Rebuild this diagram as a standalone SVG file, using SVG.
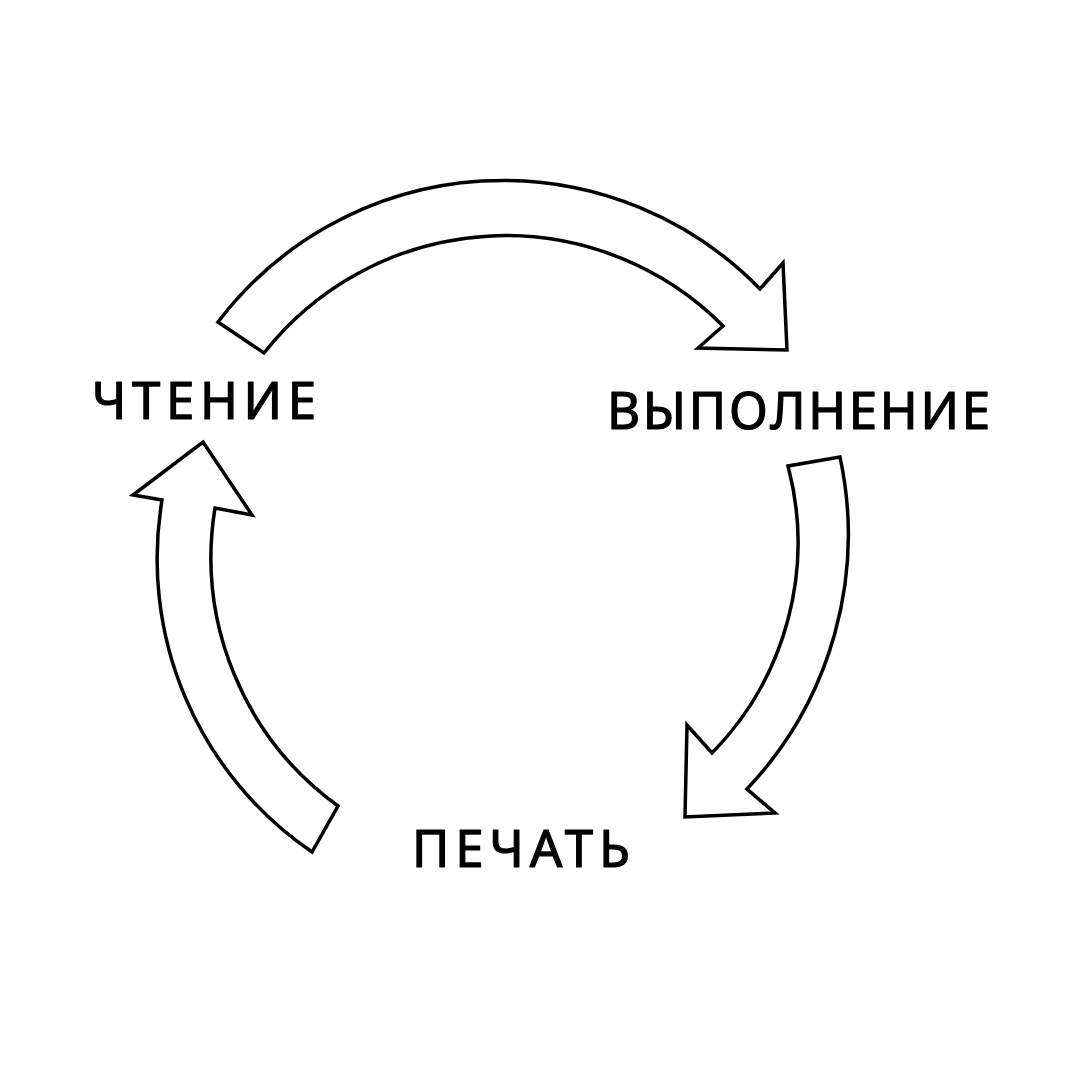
<svg xmlns="http://www.w3.org/2000/svg" width="1080" height="1080" viewBox="0 0 1080 1080">
<style>
.arrow{fill:#fff;stroke:#000;stroke-width:3.5;stroke-linejoin:miter}
.lbl{font-family:"Noto Sans","DejaVu Sans",sans-serif;font-size:51px;fill:#000;stroke:#000;stroke-width:1.2;stroke-linejoin:round}
</style>
<rect width="1080" height="1080" fill="#fff"/>
<g id="connectors">
<path id="arrow-read-exec" class="arrow" d="M218,322 A358,358 0 0 1 760,289 L783,263 L787,350 L698,348 L723,326 A307,307 0 0 0 264,353 Z"/>
<path id="arrow-exec-print" class="arrow" d="M840,457 A370,370 0 0 1 747,789 L775,813 L685,817 L687,725 L712,753 A300,300 0 0 0 788,466 Z"/>
<path id="arrow-print-read" class="arrow" d="M312,852 A355,355 0 0 1 162,500 L133,495 L203,442 L252,515 L215,508 A307,307 0 0 0 338,806 Z"/>
</g>
<g id="node-read"><text class="lbl" x="92" y="419" textLength="224" lengthAdjust="spacing">ЧТЕНИЕ</text></g>
<g id="node-exec"><text class="lbl" x="607" y="429" textLength="383" lengthAdjust="spacing">ВЫПОЛНЕНИЕ</text></g>
<g id="node-print"><text class="lbl" x="412" y="867" textLength="218" lengthAdjust="spacing">ПЕЧАТЬ</text></g>
</svg>
